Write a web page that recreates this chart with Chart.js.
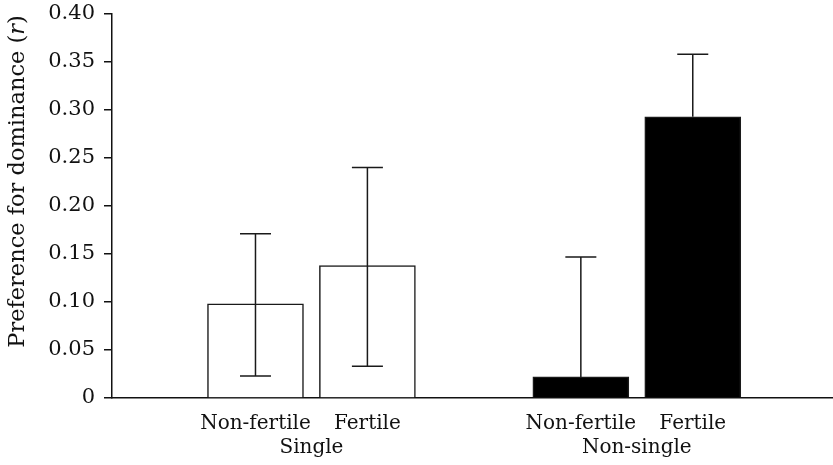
<!DOCTYPE html>
<html>
<head>
<meta charset="utf-8">
<script src="https://cdn.jsdelivr.net/npm/chart.js@4/dist/chart.umd.min.js"></script>
<style>
  html, body { margin: 0; padding: 0; background: #ffffff; }
  #wrap { width: 833px; height: 465px; position: relative; }
</style>
</head>
<body>
<div id="wrap"><canvas id="c" width="833" height="465"></canvas></div>
<script>
// ---- Data ----
const groups = ['Single', 'Non-single'];
const conditions = ['Non-fertile', 'Fertile'];
const singleMeans = [0.098, 0.138];
const nonSingleMeans = [0.022, 0.293];
const singleUpper = [0.171, 0.240];
const singleLower = [0.023, 0.033];
const nonSingleUpper = [0.147, 0.358];
const nonSingleLower = [null, null];
const yTickValues = [0, 0.05, 0.10, 0.15, 0.20, 0.25, 0.30, 0.35, 0.40];
const yTitleParts = [['Preference for dominance (', 'normal'], ['r', 'italic'], [')', 'normal']];

// ---- Styling constants ----
const FONT = '"DejaVu Serif", "Liberation Serif", serif';
const TEXT = '#111111';
const PAIR = 0.344;       // distance between the two bars inside a group (group units)
const groupFill = ['#ffffff', '#000000'];

const meansByGroup = [singleMeans, nonSingleMeans];
const upperByGroup = [singleUpper, nonSingleUpper];
const lowerByGroup = [singleLower, nonSingleLower];

const points = [], fills = [], uppers = [], lowers = [];
const xTickItems = [];
groups.forEach((g, gi) => {
  conditions.forEach((c, ci) => {
    const x = gi + 1 + (ci - 0.5) * PAIR;
    points.push({ x: x, y: meansByGroup[gi][ci] });
    fills.push(groupFill[gi]);
    uppers.push(upperByGroup[gi][ci]);
    lowers.push(lowerByGroup[gi][ci]);
    xTickItems.push({ value: x, label: c });
  });
  xTickItems.push({ value: gi + 1, label: ['', g] });   // group name on the second line
});
xTickItems.sort((a, b) => a.value - b.value);

const errorBars = {
  id: 'errorBars',
  afterDatasetsDraw(chart) {
    const ctx = chart.ctx;
    const xs = chart.scales.x, ys = chart.scales.y;
    ctx.save();
    ctx.strokeStyle = '#1a1a1a';
    ctx.lineWidth = 1.5;
    const cap = 15.5;
    points.forEach((p, i) => {
      const px = xs.getPixelForValue(p.x);
      const yTop = ys.getPixelForValue(uppers[i]);
      const yBot = ys.getPixelForValue(lowers[i] === null ? p.y : lowers[i]);
      ctx.beginPath();
      ctx.moveTo(px, yBot); ctx.lineTo(px, yTop);
      ctx.moveTo(px - cap, yTop); ctx.lineTo(px + cap, yTop);
      if (lowers[i] !== null) { ctx.moveTo(px - cap, yBot); ctx.lineTo(px + cap, yBot); }
      ctx.stroke();
    });
    ctx.restore();
  }
};

const yTitlePlugin = {
  id: 'yTitle',
  afterDraw(chart) {
    const ctx = chart.ctx;
    const size = 22.5;
    ctx.save();
    ctx.fillStyle = TEXT;
    ctx.textBaseline = 'alphabetic';
    ctx.textAlign = 'left';
    let total = 0;
    const widths = yTitleParts.map(([t, st]) => {
      ctx.font = st + ' ' + size + 'px ' + FONT;
      const w = ctx.measureText(t).width; total += w; return w;
    });
    const cx = 23.5, cy = 181.5;
    ctx.translate(cx, cy);
    ctx.rotate(-Math.PI / 2);
    let x = -total / 2;
    yTitleParts.forEach(([t, st], i) => {
      ctx.font = st + ' ' + size + 'px ' + FONT;
      ctx.fillText(t, x, 0);
      x += widths[i];
    });
    ctx.restore();
  }
};

new Chart(document.getElementById('c'), {
  type: 'bar',
  data: {
    datasets: [{
      data: points,
      backgroundColor: fills,
      borderColor: '#1a1a1a',
      borderWidth: 1.5,
      borderSkipped: 'start',
      barThickness: 96,
      xAxisID: 'x',
      yAxisID: 'y'
    }]
  },
  options: {
    responsive: false,
    animation: false,
    devicePixelRatio: 1,
    layout: { padding: { top: 14, right: 0, bottom: 0, left: 0 } },
    plugins: { legend: { display: false }, tooltip: { enabled: false }, title: { display: false } },
    scales: {
      x: {
        type: 'linear',
        position: 'bottom',
        offset: false,
        min: 0.387,
        max: 2.603,
        grid: { display: false, drawTicks: false },
        border: { display: true, color: '#111', width: 1.5 },
        afterBuildTicks(scale) { scale.ticks = xTickItems.map(t => ({ value: t.value })); },
        afterFit(scale) { scale.height = 67; scale.paddingLeft = 0; scale.paddingRight = 0; },
        ticks: {
          autoSkip: false, maxRotation: 0, minRotation: 0, padding: 14,
          color: TEXT, font: { family: FONT, size: 20, lineHeight: 1.2 },
          callback: (v, i) => xTickItems[i].label
        }
      },
      y: {
        type: 'linear',
        min: 0,
        max: 0.4,
        afterBuildTicks(scale) { scale.ticks = yTickValues.map(v => ({ value: v })); },
        afterFit(scale) { scale.width = 112; scale.paddingTop = 0; scale.paddingBottom = 0; },
        grid: { drawOnChartArea: false, drawTicks: true, tickLength: 8, color: '#111', lineWidth: 1.5 },
        border: { display: true, color: '#111', width: 1.5 },
        ticks: {
          padding: 9, color: TEXT, font: { family: FONT, size: 21 },
          callback: v => v === 0 ? '0' : v.toFixed(2)
        }
      }
    }
  },
  plugins: [errorBars, yTitlePlugin]
});
</script>
</body>
</html>
